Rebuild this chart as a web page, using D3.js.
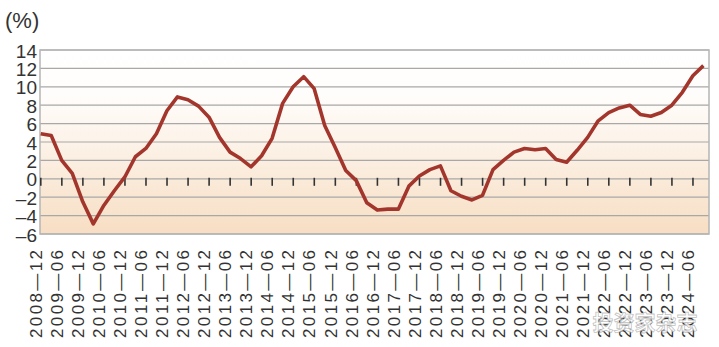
<!DOCTYPE html>
<html>
<head>
<meta charset="utf-8">
<script src="https://cdn.jsdelivr.net/npm/d3@7"></script>
<style>
  body { margin: 0; background: #fff; }
  svg { display: block; }
</style>
</head>
<body>
<script>
// Kvartalsvise værdier (%) fra 2008-12 til 2024-09
var values = [4.9, 4.7, 2.0, 0.6, -2.5, -4.9, -2.9, -1.3, 0.2, 2.4,
  3.3, 4.9, 7.4, 8.9, 8.6, 7.9, 6.7, 4.5, 2.9, 2.2,
  1.3, 2.5, 4.4, 8.2, 10.0, 11.1, 9.8, 5.8, 3.4, 0.9,
  -0.2, -2.6, -3.4, -3.3, -3.3, -0.8, 0.3, 1.0, 1.4, -1.3,
  -1.9, -2.3, -1.8, 1.0, 2.0, 2.9, 3.3, 3.15, 3.3, 2.1,
  1.8, 3.1, 4.5, 6.3, 7.2, 7.7, 8.0, 7.0, 6.8, 7.2,
  8.0, 9.4, 11.2, 12.3];

// Etiketter på x-aksen (hvert halve år)
var xLabels = ["2008—12", "2009—06", "2009—12", "2010—06", "2010—12", "2011—06",
  "2011—12", "2012—06", "2012—12", "2013—06", "2013—12", "2014—06", "2014—12",
  "2015—06", "2015—12", "2016—06", "2016—12", "2017—06", "2017—12", "2018—06",
  "2018—12", "2019—06", "2019—12", "2020—06", "2020—12", "2021—06", "2021—12",
  "2022—06", "2022—12", "2023—06", "2023—12", "2024—06"];
var yTicks = [14, 12, 10, 8, 6, 4, 2, 0, -2, -4, -6];

var width = 719, height = 347;
var margin = {top: 50, right: 10, bottom: 113, left: 40};
var x0 = margin.left, x1 = width - margin.right;
var y0 = margin.top, y1 = height - margin.bottom;

var svg = d3.select("body").append("svg")
  .attr("width", width)
  .attr("height", height);

// Baggrundsgradient
var grad = svg.append("defs").append("linearGradient")
  .attr("id", "bg").attr("x1", 0).attr("y1", 0).attr("x2", 0).attr("y2", 1);
grad.append("stop").attr("offset", "0%").attr("stop-color", "#ffffff");
grad.append("stop").attr("offset", "25%").attr("stop-color", "#fffdfb");
grad.append("stop").attr("offset", "100%").attr("stop-color", "#f7dec3");

var x = d3.scaleLinear().domain([0, 63.6]).range([x0, x1]);
var y = d3.scaleLinear().domain([-6, 14]).range([y1, y0]);

svg.append("rect")
  .attr("x", x0).attr("y", y0)
  .attr("width", x1 - x0).attr("height", y1 - y0)
  .attr("fill", "url(#bg)");

// Gitterlinjer
svg.selectAll(".grid")
  .data(yTicks)
  .enter()
  .append("line")
  .attr("x1", x0).attr("x2", x1)
  .attr("y1", function(d) { return y(d); })
  .attr("y2", function(d) { return y(d); })
  .attr("stroke", "#a8a8a8")
  .attr("stroke-width", 1.2);

// Ramme
svg.append("rect")
  .attr("x", x0).attr("y", y0)
  .attr("width", x1 - x0).attr("height", y1 - y0)
  .attr("fill", "none")
  .attr("stroke", "#b5b5b5")
  .attr("stroke-width", 1.5);

// Små streger på nullinjen
svg.selectAll(".tick")
  .data(xLabels)
  .enter()
  .append("line")
  .attr("x1", function(d, i) { return x(i * 2) + 0.8; })
  .attr("x2", function(d, i) { return x(i * 2) + 0.8; })
  .attr("y1", y(0) - 1)
  .attr("y2", y(0) + 7)
  .attr("stroke", "#333")
  .attr("stroke-width", 1.6);

// Linjen
var line = d3.line()
  .x(function(d, i) { return x(i) + 0.7; })
  .y(function(d) { return y(d); });

svg.append("path")
  .datum(values)
  .attr("d", line)
  .attr("fill", "none")
  .attr("stroke", "#a3362c")
  .attr("stroke-width", 3.6)
  .attr("stroke-linejoin", "round");

// Y-akse etiketter
svg.selectAll(".ylab")
  .data(yTicks)
  .enter()
  .append("text")
  .attr("x", 37)
  .attr("y", function(d) { return y(d) + 7.5; })
  .attr("text-anchor", "end")
  .attr("font-family", "Liberation Sans, sans-serif")
  .attr("font-size", "19px")
  .attr("fill", "#333")
  .text(function(d) { return d < 0 ? "–" + (-d) : d; });

svg.append("text")
  .attr("x", 5).attr("y", 28)
  .attr("font-family", "Liberation Sans, sans-serif")
  .attr("font-size", "22px")
  .attr("fill", "#333")
  .text("(%)");

// X-akse etiketter (lodrette)
svg.selectAll(".xlab")
  .data(xLabels)
  .enter()
  .append("text")
  .attr("transform", function(d, i) {
    return "translate(" + (x(i * 2) + 2) + ",250) rotate(-90)";
  })
  .attr("text-anchor", "end")
  .attr("font-family", "Liberation Sans, sans-serif")
  .attr("font-size", "17px")
  .attr("fill", "#333")
  .attr("textLength", 88)
  .attr("lengthAdjust", "spacing")
  .text(function(d) { return d; });

// Vandmærke
svg.append("text")
  .attr("x", 645).attr("y", 330)
  .attr("text-anchor", "middle")
  .attr("font-family", "Noto Sans CJK SC, sans-serif")
  .attr("font-size", "21px")
  .attr("font-weight", "bold")
  .attr("fill", "rgba(255,255,255,0.85)")
  .attr("stroke", "rgba(150,150,150,0.6)")
  .attr("stroke-width", 0.8)
  .text("投资家杂志");
</script>
</body>
</html>
